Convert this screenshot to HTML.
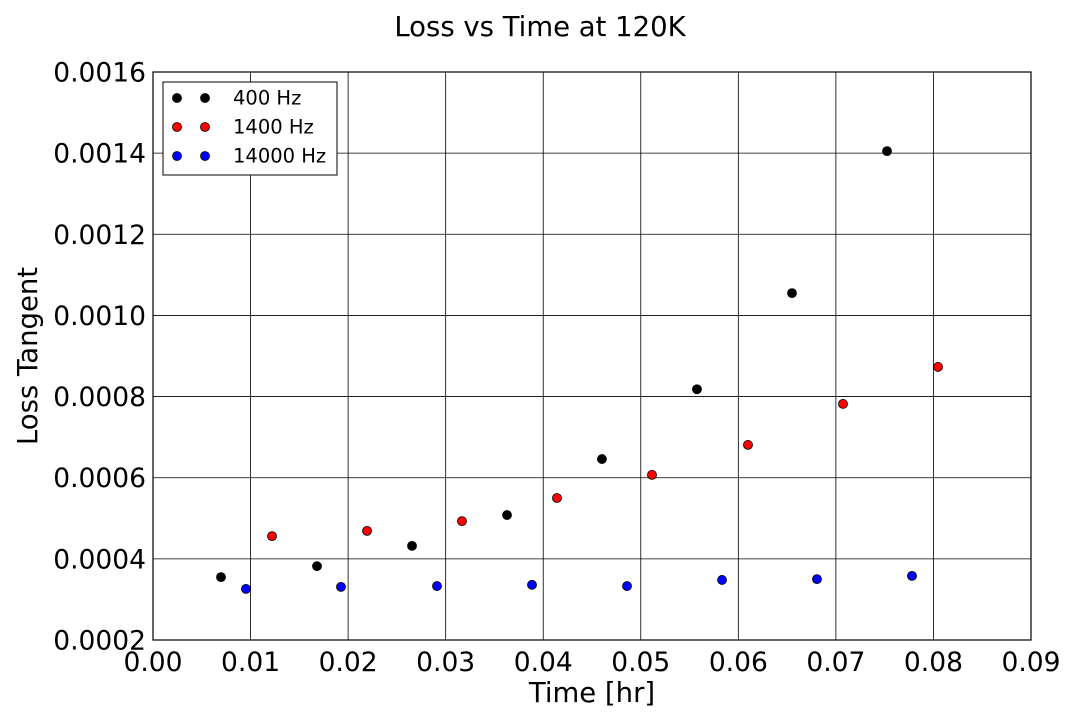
<!DOCTYPE html>
<html><head><meta charset="utf-8"><style>
body{margin:0;background:#fff;}
svg{display:block;font-family:"DejaVu Sans","Liberation Sans",sans-serif;}
</style></head><body>
<svg id="chart" width="1080" height="720"></svg>
<script>
const xTicks=[0,0.01,0.02,0.03,0.04,0.05,0.06,0.07,0.08,0.09];
const yTicks=[0.0002,0.0004,0.0006,0.0008,0.0010,0.0012,0.0014,0.0016];
const x400=[0.00697,0.01681,0.02655,0.03629,0.04602,0.05576,0.0655,0.07524];
const y400=[0.000355,0.000382,0.000432,0.000508,0.000646,0.000818,0.001055,0.001405];
const x1400=[0.0122,0.02194,0.03167,0.04141,0.05115,0.06099,0.07073,0.08047];
const y1400=[0.000456,0.000469,0.000493,0.00055,0.000607,0.000681,0.000782,0.000873];
const x14000=[0.00953,0.01927,0.02911,0.03885,0.04859,0.05833,0.06806,0.0778];
const y14000=[0.000326,0.000331,0.000333,0.000336,0.000333,0.000348,0.00035,0.000358];
const seriesNames=["400 Hz","1400 Hz","14000 Hz"];
const L=153,R=1031,T=72,B=640;
const sx=v=>L+(v-0)/(0.09)*(R-L);
const sy=v=>B-(v-0.0002)/(0.0014)*(B-T);
const svg=document.getElementById('chart');
const NS="http://www.w3.org/2000/svg";
function mk(tag,attrs,text){const e=document.createElementNS(NS,tag);for(const k in attrs)e.setAttribute(k,attrs[k]);if(text!=null)e.textContent=text;svg.appendChild(e);return e;}
xTicks.forEach((t,i)=>{
 const x=sx(t);
 if(i>0&&i<xTicks.length-1){const g=mk('line',{x1:x,x2:x,y1:T,y2:B,stroke:'#000','stroke-width':0.8});
 
 }
 const l=mk('text',{x:x,y:B+31,'text-anchor':'middle','font-size':26.5},t.toFixed(2));
 
 
});
yTicks.forEach((t,i)=>{
 const y=sy(t);
 if(i>0&&i<yTicks.length-1){const g=mk('line',{x1:L,x2:R,y1:y,y2:y,stroke:'#000','stroke-width':0.8});
 
 }
 const l=mk('text',{x:L-7,y:y+9.5,'text-anchor':'end','font-size':26.5},t.toFixed(4));
 
 
});
const fr=mk('rect',{x:L,y:T,width:R-L,height:B-T,fill:'none',stroke:'#000','stroke-width':1.2});


const sets=[[x400,y400,'#000'],[x1400,y1400,'#f00'],[x14000,y14000,'#00f']];
sets.forEach((s,si)=>{
 s[0].forEach((xv,i)=>{
  const c=mk('circle',{cx:sx(xv),cy:sy(s[1][i]),r:4.5,fill:s[2],stroke:'#000','stroke-width':0.8});
  
  
 });
});
const lg=mk('rect',{x:163,y:82,width:174,height:93,fill:'#fff',stroke:'#000','stroke-width':1});


sets.forEach((s,si)=>{
 const y=98+si*29;
 [177,205].forEach(x=>{const c=mk('circle',{cx:x,cy:y,r:4.5,fill:s[2],stroke:'#000','stroke-width':0.8});
 
 });
 const t=mk('text',{x:233,y:y+6.5,'font-size':19.5},seriesNames[si]);
 
 
});
const ti=mk('text',{x:540,y:36,'text-anchor':'middle','font-size':27.5},'Loss vs Time at 120K');


const xt=mk('text',{x:592,y:702,'text-anchor':'middle','font-size':27.5},'Time [hr]');


const yt=mk('text',{x:0,y:0,'text-anchor':'middle','font-size':27.5,transform:'translate(37,356) rotate(-90)'},'Loss Tangent');


</script>
</body></html>
